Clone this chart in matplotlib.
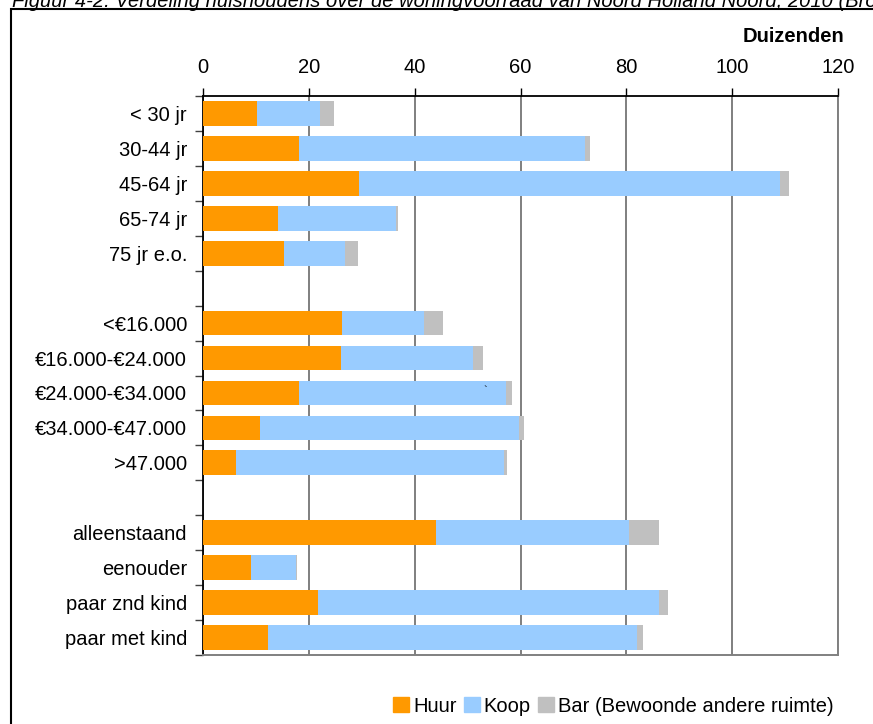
import numpy as np
import matplotlib.pyplot as plt
from matplotlib.patches import Rectangle, Patch

plt.rcParams['font.family'] = ['Liberation Sans', 'DejaVu Sans']
plt.rcParams['font.size'] = 14.5

# huishoudens per groep, in duizenden
categories = ['< 30 jr', '30-44 jr', '45-64 jr', '65-74 jr', '75 jr e.o.',
              '<€16.000', '€16.000-€24.000', '€24.000-€34.000', '€34.000-€47.000', '>47.000',
              'alleenstaand', 'eenouder', 'paar znd kind', 'paar met kind']
huur = [10.2, 18.2, 29.5, 14.1, 15.4,
        26.3, 26.1, 18.1, 10.8, 6.2,
        44.1, 9.0, 21.8, 12.2]
koop = [12.0, 54.0, 79.5, 22.3, 11.5,
        15.4, 25.0, 39.1, 48.9, 50.7,
        36.4, 8.5, 64.4, 69.9]
bar = [2.5, 1.0, 1.8, 0.5, 2.3,
       3.7, 1.8, 1.2, 0.9, 0.6,
       5.7, 0.3, 1.6, 1.0]
group_sizes = [5, 5, 4]
xticks = [0, 20, 40, 60, 80, 100, 120]

colors = {'Huur': '#FF9900', 'Koop': '#99CCFF',
          'Bar (Bewoonde andere ruimte)': '#C0C0C0'}

# one empty slot between the groups
pos = []
y = 0
for n in group_sizes:
    pos += list(range(y, y + n))
    y += n + 1
n_slots = y - 1

huur_a = np.array(huur)
koop_a = np.array(koop)
bar_a = np.array(bar)

W, H = 873, 724
fig = plt.figure(figsize=(W / 100, H / 100), dpi=100)
ax = fig.add_axes([203 / W, 1 - 655 / H, (838 - 203) / W, (655 - 96) / H])

h = 0.71
ax.barh(pos, huur_a, height=h, color=colors['Huur'], zorder=3)
ax.barh(pos, koop_a, left=huur_a, height=h, color=colors['Koop'], zorder=3)
ax.barh(pos, bar_a, left=huur_a + koop_a, height=h,
        color=colors['Bar (Bewoonde andere ruimte)'], zorder=3)

ax.set_xlim(0, 120)
ax.set_ylim(n_slots - 0.5, -0.5)

# x axis on top
ax.xaxis.tick_top()
ax.set_xticks(xticks)
ax.tick_params(axis='x', length=5.8, width=1, color='black', pad=8)
ax.grid(axis='x', color='#7f7f7f', lw=1.4, zorder=1)

# category labels, ticks between the categories
labels = [''] * n_slots
for p, c in zip(pos, categories):
    labels[p] = c
ax.set_yticks(range(n_slots))
ax.set_yticklabels(labels)
ax.tick_params(axis='y', which='major', length=0, pad=11.5)
ax.set_yticks(np.arange(-0.5, n_slots), minor=True)
ax.tick_params(axis='y', which='minor', length=5.5, width=1, color='#404040')

for side in ['top', 'left']:
    ax.spines[side].set_color('black')
    ax.spines[side].set_linewidth(1.3)
for side in ['bottom', 'right']:
    ax.spines[side].set_color('#808080')
    ax.spines[side].set_linewidth(1.4)

ax.text(53.4, 7.95, '`', fontsize=8, ha='center', va='center', zorder=4)

fig.text(844 / W, 1 - 37 / H, 'Duizenden', ha='right', va='center',
         weight='bold')

fig.text(12 / W, 1 - 7 / H,
         'Figuur 4-2: Verdeling huishoudens over de woningvoorraad van '
         'Noord Holland Noord, 2010 (Bron',
         style='italic', va='baseline')

# outer frame
fig.patches.append(Rectangle((11 / W, -0.1), 2, 1.1 - 9 / H, fill=False,
                             edgecolor='black', lw=1.5,
                             transform=fig.transFigure))

handles = [Patch(color=c, label=k) for k, c in colors.items()]
fig.legend(handles=handles, loc='center left', ncol=3,
           bbox_to_anchor=(393 / W, 1 - 706 / H), frameon=False,
           borderpad=0, borderaxespad=0, handlelength=0.8,
           handleheight=0.75, handletextpad=0.2, columnspacing=0.35)

fig.savefig('out.png', dpi=100)
